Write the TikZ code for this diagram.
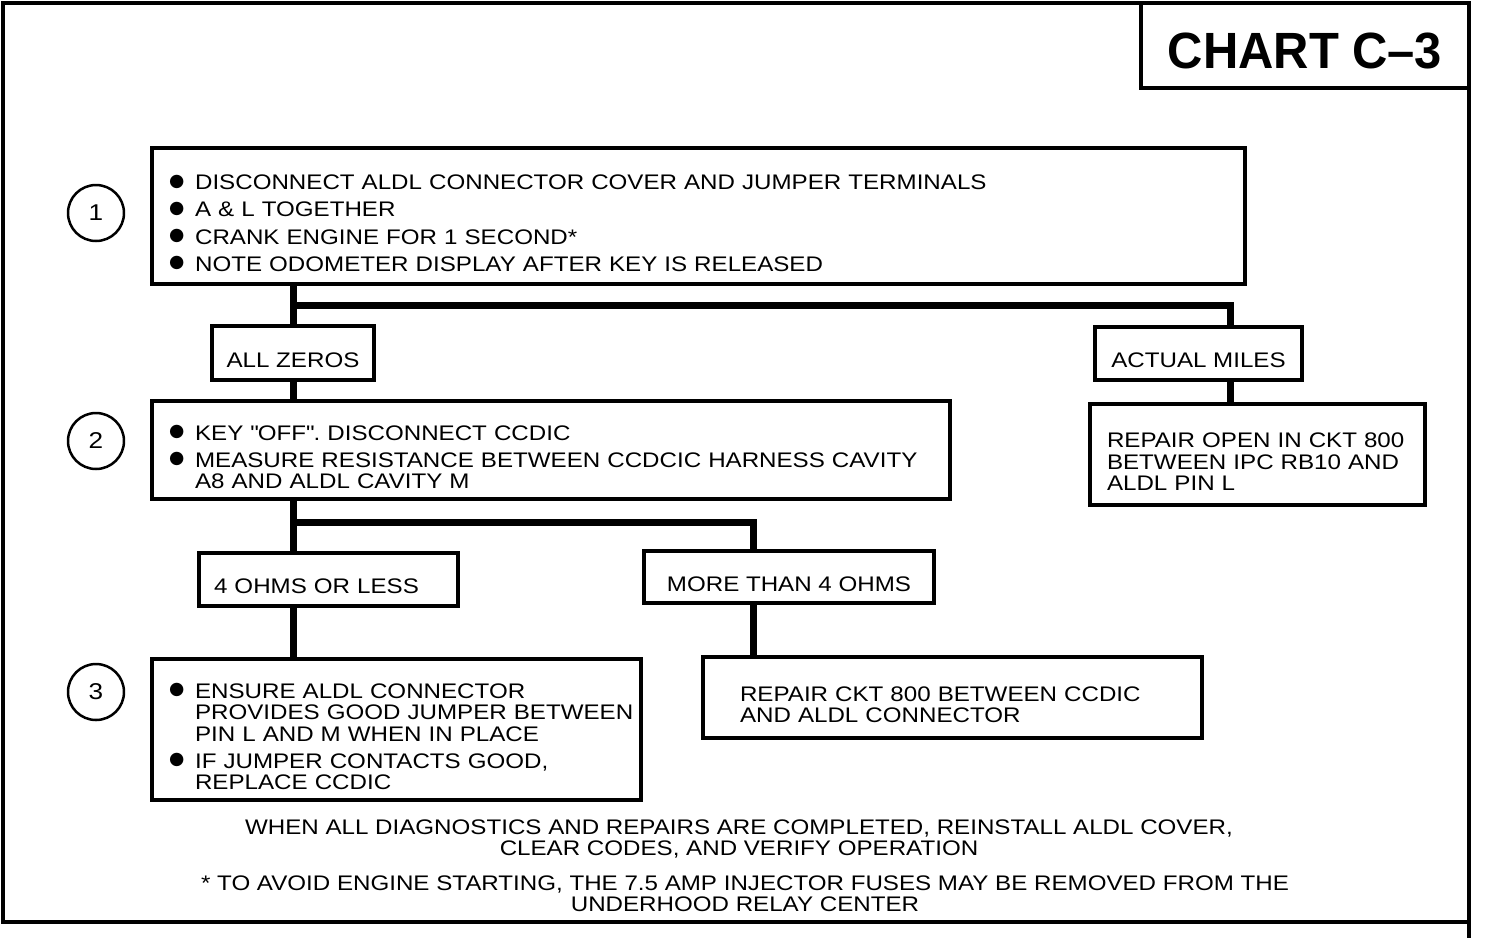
\documentclass[tikz,border=0pt]{standalone}
\usepackage{fontspec}
\setmainfont{Liberation Sans}[FakeStretch=1.145]
\newfontfamily\chartfont{Liberation Sans}[FakeStretch=0.96]
\newfontfamily\symfont{DejaVu Sans}
\usetikzlibrary{positioning}
\frenchspacing
\newcommand\bmark{\makebox[0.52cm][l]{\raisebox{1.9pt}{\symfont\fontsize{10}{10}\selectfont ●}}}
\newcommand\bitem[1]{\mbox{\bmark#1}}
\newcommand\bcont[1]{\mbox{\hspace*{0.52cm}#1}}

\begin{document}
\begin{tikzpicture}[x=0.02cm, y=-0.02cm,
  frame/.style={line width=0.065cm},
  drop/.style={execute at begin node={\rule{0pt}{#1}}},
  stepbox/.style={rectangle, draw, line width=0.065cm, inner xsep=0.34cm,
                  inner ysep=0pt, align=left, font=\fontsize{12}{12.2}\selectfont,
                  drop=16.6pt},
  resbox/.style={rectangle, draw, line width=0.065cm, inner sep=0pt,
                 align=center, font=\fontsize{12}{12.2}\selectfont, drop=16.6pt},
  num/.style={circle, draw, line width=0.05cm, minimum size=1.12cm,
              inner sep=0pt, font=\fontsize{13}{13}\selectfont},
  flow/.style={line width=0.14cm},
  note/.style={align=center, font=\fontsize{12}{12.2}\selectfont}
]
  \path[use as bounding box, fill=white] (0,0) rectangle (1504,938);
  \draw[frame] (3,3) rectangle (1469,922);
  \draw[frame] (1469,922) -- (1469,938);
  \node[draw, frame, minimum width=6.56cm, minimum height=1.7cm, inner sep=0pt,
        drop=26pt, font=\chartfont\bfseries\fontsize{29}{29}\selectfont] (ttl) at (1305,45.5) {CHART C–3};

  \node[stepbox, text width=21.18cm, minimum height=2.72cm] (s1) at (698.5,216)
    {\bitem{DISCONNECT ALDL CONNECTOR COVER AND JUMPER TERMINALS}\\[3.2pt]
     \bitem{A \& L TOGETHER}\\[3.2pt]
     \bitem{CRANK ENGINE FOR 1 SECOND*}\\[3.2pt]
     \bitem{NOTE ODOMETER DISPLAY AFTER KEY IS RELEASED}};
  \node[num] (n1) at (96,213) {1};
  \node[resbox, minimum width=3.24cm, minimum height=1.08cm] (az) at (293,353) {ALL ZEROS};
  \node[resbox, minimum width=4.14cm, minimum height=1.06cm] (am) at (1198.5,353.5) {ACTUAL MILES};

  \node[stepbox, text width=15.28cm, minimum height=1.96cm] (s2) at (551,450)
    {\bitem{KEY \textquotedbl OFF\textquotedbl. DISCONNECT CCDIC}\\[3.2pt]
     \bitem{MEASURE RESISTANCE BETWEEN CCDCIC HARNESS CAVITY}\\
     \bcont{A8 AND ALDL CAVITY M}};
  \node[num] (n2) at (96,441) {2};
  \node[stepbox, drop=12pt, text width=6.02cm, minimum height=2.02cm] (r1) at (1257.5,454.5)
    {REPAIR OPEN IN CKT 800\\BETWEEN IPC RB10 AND\\ALDL PIN L};
  \node[stepbox, inner xsep=0.3cm, text width=4.58cm, minimum height=1.06cm] (lo) at (328.5,579.5) {4 OHMS OR LESS};
  \node[resbox, minimum width=5.8cm, minimum height=1.04cm] (hi) at (789,577) {MORE THAN 4 OHMS};

  \node[stepbox, text width=9.1cm, minimum height=2.82cm] (s3) at (396.5,729.5)
    {\bitem{ENSURE ALDL CONNECTOR}\\
     \bcont{PROVIDES GOOD JUMPER BETWEEN}\\
     \bcont{PIN L AND M WHEN IN PLACE}\\[3.2pt]
     \bitem{IF JUMPER CONTACTS GOOD,}\\
     \bcont{REPLACE CCDIC}};
  \node[num] (n3) at (96,692) {3};
  \node[stepbox, drop=13.2pt, inner xsep=0.74cm, text width=8.5cm, minimum height=1.62cm] (r2) at (952.5,697.5)
    {REPAIR CKT 800 BETWEEN CCDIC\\AND ALDL CONNECTOR};

  \node[note] (fin) at (739,839)
    {WHEN ALL DIAGNOSTICS AND REPAIRS ARE COMPLETED, REINSTALL ALDL COVER,\\CLEAR CODES, AND VERIFY OPERATION};
  \node[note] (fuse) at (745,894)
    {* TO AVOID ENGINE STARTING, THE 7.5 AMP INJECTOR FUSES MAY BE REMOVED FROM THE\\UNDERHOOD RELAY CENTER};

  \coordinate (sp)  at (293,305);
  \coordinate (spr) at (1230,305);
  \coordinate (sq)  at (293,522);
  \coordinate (sqr) at (753,522);
  \draw[flow] (s1.south -| az) -- (az.north);
  \draw[flow] (sp) -- (spr) -- (spr |- am.north);
  \draw[flow] (az.south) -- (az.south |- s2.north);
  \draw[flow] (spr |- am.south) -- (spr |- r1.north);
  \draw[flow] (s2.south -| sq) -- (sq |- lo.north);
  \draw[flow] (sq) -- (sqr) -- (sqr |- hi.north);
  \draw[flow] (sq |- lo.south) -- (sq |- s3.north);
  \draw[flow] (sqr |- hi.south) -- (sqr |- r2.north);
\end{tikzpicture}
\end{document}
